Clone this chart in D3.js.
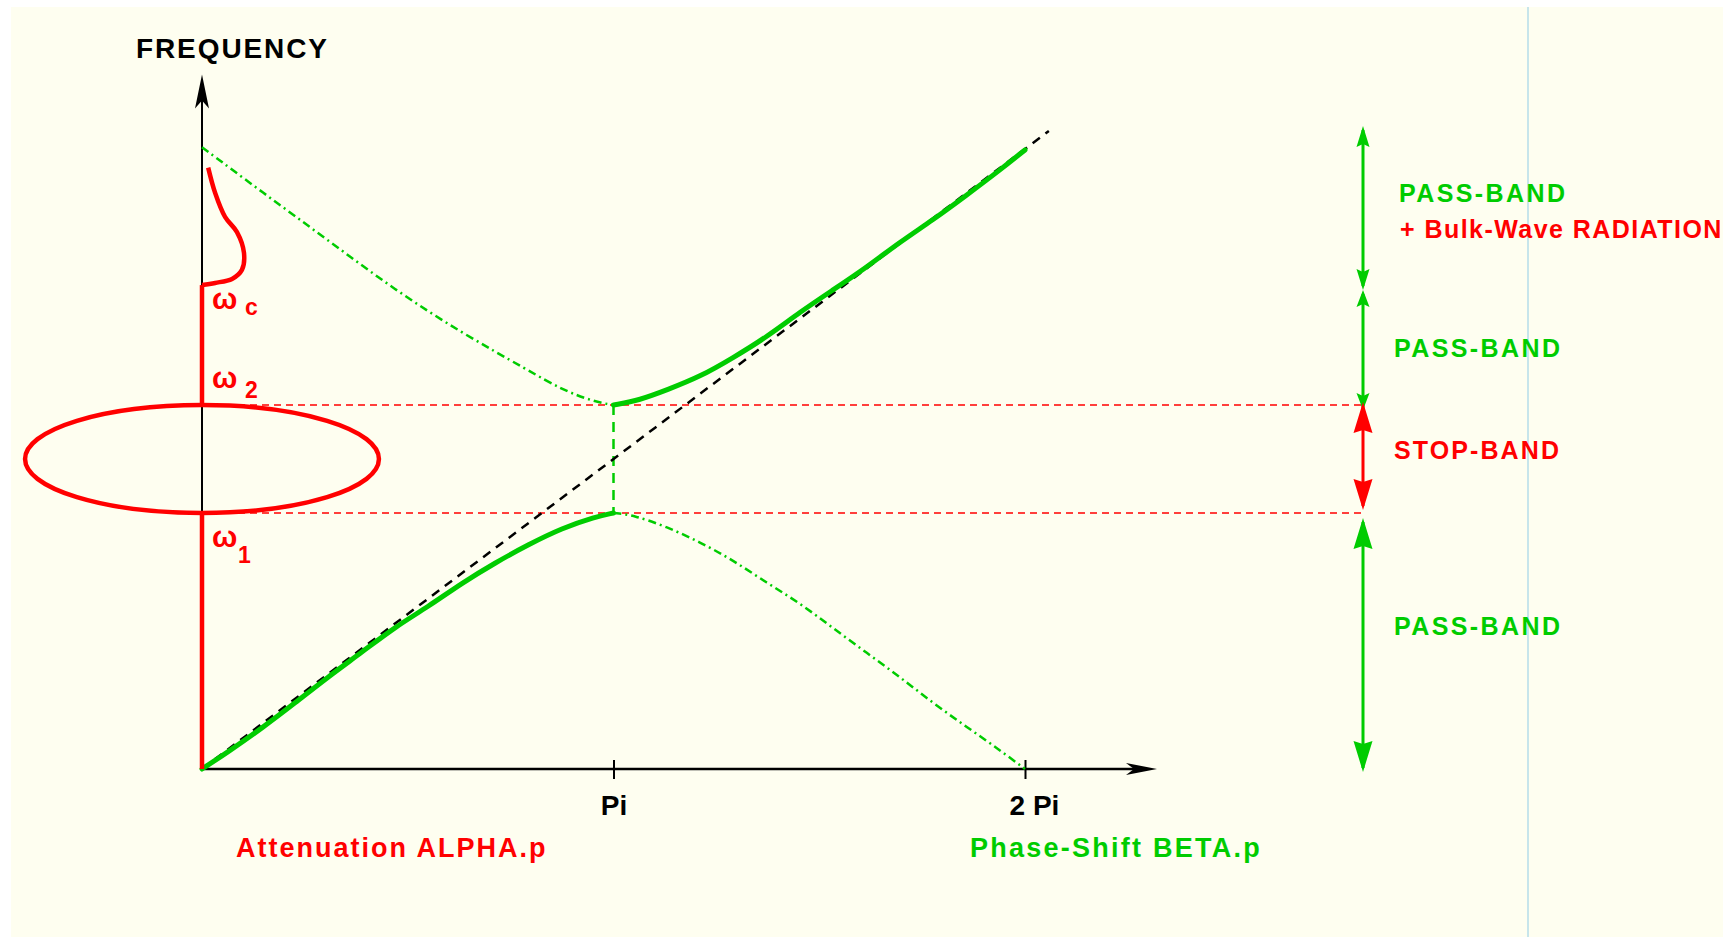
<!DOCTYPE html>
<html>
<head>
<meta charset="utf-8">
<script src="https://cdn.jsdelivr.net/npm/d3@7"></script>
<style>
  html, body { margin: 0; padding: 0; background: #fff; }
  svg { display: block; }
  text { font-family: "Liberation Sans", Arial, Helvetica, sans-serif; font-weight: bold; }
</style>
</head>
<body>
<div id="chart"></div>
<script>
// beta.p in units of pi, frequency normalised so the free line is f = beta/pi
const w1 = 0.826, w2 = 1.174, wc = 1.561, fTop = 2.074, fAxisTop = 2.24;

// [beta.p / pi, f]
const lowerBranch = [[0, 0], [0.063, 0.055], [0.146, 0.132], [0.226, 0.213], [0.306, 0.297],
  [0.389, 0.377], [0.469, 0.458], [0.549, 0.523], [0.632, 0.6], [0.712, 0.665],
  [0.792, 0.723], [0.875, 0.777], [0.955, 0.813], [1, 0.826]];
const upperBranch = [[1, 1.174], [1.064, 1.19], [1.13, 1.223], [1.21, 1.265], [1.29, 1.326],
  [1.373, 1.394], [1.453, 1.474], [1.533, 1.545], [1.616, 1.619], [1.696, 1.7],
  [1.776, 1.771], [1.859, 1.852], [1.939, 1.932], [2, 1.997]];
const upperFolded = [[0, 2.006], [0.146, 1.861], [0.306, 1.706], [0.469, 1.545], [0.632, 1.406],
  [0.792, 1.287], [0.875, 1.223], [0.955, 1.184], [1, 1.174]];
const lowerFolded = [[1, 0.826], [1.049, 0.819], [1.13, 0.781], [1.21, 0.732], [1.29, 0.674],
  [1.373, 0.6], [1.453, 0.535], [1.533, 0.455], [1.616, 0.374], [1.696, 0.297],
  [1.776, 0.213], [1.859, 0.135], [1.939, 0.061], [2, 0]];
const freeLine = [[0, 0], [2.058, 2.058]];

// attenuation alpha.p above wc (bulk-wave radiation), [alpha, f]
const radiationAlpha = [[0.015, 1.94], [0.032, 1.858], [0.056, 1.781], [0.085, 1.732],
  [0.102, 1.665], [0.097, 1.61], [0.073, 1.581], [0.032, 1.568], [0, 1.561]];
const stopAlpha = 0.43; // peak attenuation in the stop band

const xTicks = [1, 2];
const xTickLabels = ["Pi", "2 Pi"];

const bandFrom = [wc, w2, w1, 0];
const bandTo = [fTop, wc, w2, w1];
const bandKind = ["pass", "pass", "stop", "pass"];
const bandLabels = [["PASS-BAND", "+ Bulk-Wave RADIATION"], ["PASS-BAND"], ["STOP-BAND"], ["PASS-BAND"]];
const bandLabelAt = [1.829, 1.329, 1.0, 0.432];

const width = 1723, height = 941;
const green = "#00cc00", red = "#ff0000";

const x = d3.scaleLinear([0, 2], [202, 1025]);
const y = d3.scaleLinear([0, 2], [769, 149]);

const svg = d3.select("#chart").append("svg")
  .attr("width", width)
  .attr("height", height);

// page
svg.append("rect")
  .attr("x", 11).attr("y", 7)
  .attr("width", width - 11).attr("height", 930)
  .attr("fill", "#fefef0");
svg.append("line")
  .attr("x1", 1528).attr("x2", 1528)
  .attr("y1", 7).attr("y2", 937)
  .attr("stroke", "#b4dcea")
  .attr("stroke-width", 1.5);

const line = d3.line().x(d => x(d[0])).y(d => y(d[1])).curve(d3.curveBasis);
const lineRed = d3.line().x(d => x(d[0])).y(d => y(d[1])).curve(d3.curveCatmullRom);

function arrowHead(g, px, py, dir, len, half, color, notch = 0) {
  // dir: "up", "down", "right"
  let d;
  if (dir === "up") d = `M${px},${py} L${px - half},${py + len} L${px},${py + len - notch} L${px + half},${py + len} Z`;
  else if (dir === "down") d = `M${px},${py} L${px - half},${py - len} L${px},${py - len + notch} L${px + half},${py - len} Z`;
  else d = `M${px},${py} L${px - len},${py - half} L${px - len + notch},${py} L${px - len},${py + half} Z`;
  g.append("path").attr("d", d).attr("fill", color);
}

// axes
const axes = svg.append("g");
axes.append("line")
  .attr("x1", x(0)).attr("x2", x(0))
  .attr("y1", y(0)).attr("y2", y(fAxisTop) + 10)
  .attr("stroke", "#000").attr("stroke-width", 2);
arrowHead(axes, x(0), y(fAxisTop), "up", 34, 7, "#000", 8);

axes.append("line")
  .attr("x1", x(0)).attr("x2", 1147)
  .attr("y1", y(0)).attr("y2", y(0))
  .attr("stroke", "#000").attr("stroke-width", 2.5);
arrowHead(axes, 1157, y(0), "right", 31, 6, "#000", 8);

const xAxis = svg.append("g")
  .attr("transform", `translate(0,${y(0)})`)
  .call(d3.axisBottom(x).tickValues(xTicks).tickSize(10)
    .tickFormat((d, i) => xTickLabels[i]));
xAxis.select(".domain").remove();
xAxis.selectAll(".tick line")
  .attr("y1", -9)
  .attr("stroke", "#000")
  .attr("stroke-width", 2);
xAxis.selectAll(".tick text")
  .attr("y", 46).attr("dy", 0)
  .attr("dx", d => d === 2 ? 9 : 0)
  .attr("fill", "#000")
  .style("font-size", "28px")
  .style("font-family", "'Liberation Sans', Arial, sans-serif")
  .style("font-weight", "bold");

svg.append("text")
  .attr("x", 136).attr("y", 58)
  .attr("font-size", 28)
  .attr("letter-spacing", 1.9)
  .attr("fill", "#000")
  .text("FREQUENCY");

// band-edge guides
svg.append("g").selectAll("line")
  .data([w2, w1])
  .join("line")
  .attr("x1", x(0)).attr("x2", 1363)
  .attr("y1", d => y(d)).attr("y2", d => y(d))
  .attr("stroke", red)
  .attr("stroke-width", 1.5)
  .attr("stroke-dasharray", "7,5");

svg.append("line")
  .attr("x1", x(1)).attr("x2", x(1))
  .attr("y1", y(w2)).attr("y2", y(w1))
  .attr("stroke", green)
  .attr("stroke-width", 2.5)
  .attr("stroke-dasharray", "10,7");

// free (unperturbed) line
svg.append("path")
  .attr("d", line(freeLine))
  .attr("fill", "none")
  .attr("stroke", "#000")
  .attr("stroke-width", 2.5)
  .attr("stroke-dasharray", "9,7");

// folded branches
svg.append("g").selectAll("path")
  .data([upperFolded, lowerFolded])
  .join("path")
  .attr("d", line)
  .attr("fill", "none")
  .attr("stroke", green)
  .attr("stroke-width", 2.5)
  .attr("stroke-dasharray", "8,4,2,4");

// phase-shift branches
svg.append("g").selectAll("path")
  .data([lowerBranch, upperBranch])
  .join("path")
  .attr("d", line)
  .attr("fill", "none")
  .attr("stroke", green)
  .attr("stroke-width", 5)
  .attr("stroke-linecap", "round");

// attenuation
const att = svg.append("g")
  .attr("fill", "none")
  .attr("stroke", red)
  .attr("stroke-width", 4.5);
att.append("ellipse")
  .attr("cx", x(0))
  .attr("cy", y((w1 + w2) / 2))
  .attr("rx", x(stopAlpha) - x(0))
  .attr("ry", (y(w1) - y(w2)) / 2);
att.selectAll("line")
  .data([[0, w1], [w2, wc]])
  .join("line")
  .attr("x1", x(0)).attr("x2", x(0))
  .attr("y1", d => y(d[0])).attr("y2", d => y(d[1]));
att.append("path").attr("d", lineRed(radiationAlpha));

// omega labels
const omegas = [
  { f: wc, sub: "c", dy: 24, sdy: 30, sx: 245 },
  { f: w2, sub: "2", dy: -17, sdy: -7, sx: 245 },
  { f: w1, sub: "1", dy: 34, sdy: 50, sx: 238 },
];
const om = svg.append("g").attr("fill", red);
om.selectAll(".w")
  .data(omegas)
  .join("text")
  .attr("x", 212)
  .attr("y", d => y(d.f) + d.dy)
  .attr("font-size", 30)
  .attr("font-weight", "normal")
  .text("\u03c9");
om.selectAll(".s")
  .data(omegas)
  .join("text")
  .attr("x", d => d.sx)
  .attr("y", d => y(d.f) + d.sdy)
  .attr("font-size", 23)
  .text(d => d.sub);

// bottom captions
svg.append("text")
  .attr("x", 236).attr("y", 857)
  .attr("font-size", 27)
  .attr("letter-spacing", 2)
  .attr("fill", red)
  .text("Attenuation ALPHA.p");
svg.append("text")
  .attr("x", 970).attr("y", 857)
  .attr("font-size", 27)
  .attr("letter-spacing", 2.25)
  .attr("fill", green)
  .text("Phase-Shift BETA.p");

// band arrows on the right
const bx = 1363;
const bandG = svg.append("g");
bandFrom.forEach((f0, i) => {
  const stop = bandKind[i] === "stop";
  const color = stop ? red : green;
  const top = y(bandTo[i]) + (stop ? -3 : (bandTo[i] === fTop ? 0 : 5));
  const bot = y(f0) + (stop ? -3 : (f0 === 0 ? 3 : 5));
  const len = stop || i === 3 ? 31 : (i === 0 ? 21 : 17);
  const half = stop || i === 3 ? 9.5 : 6.5;
  bandG.append("line")
    .attr("x1", bx).attr("x2", bx)
    .attr("y1", top + 4).attr("y2", bot - 4)
    .attr("stroke", color).attr("stroke-width", 3);
  arrowHead(bandG, bx, top, "up", len, half, color, 3);
  arrowHead(bandG, bx, bot, "down", len, half, color, 3);

  bandG.append("g").selectAll("text")
    .data(bandLabels[i])
    .join("text")
    .attr("x", (d, j) => i === 0 ? 1399 + j : 1394)
    .attr("y", (d, j) => y(bandLabelAt[i]) + j * 36)
    .attr("font-size", 25)
    .attr("letter-spacing", (d, j) => j ? 1.45 : (stop ? 2.1 : 2.4))
    .attr("fill", (d, j) => j ? red : color)
    .text(d => d);
});
</script>
</body>
</html>
